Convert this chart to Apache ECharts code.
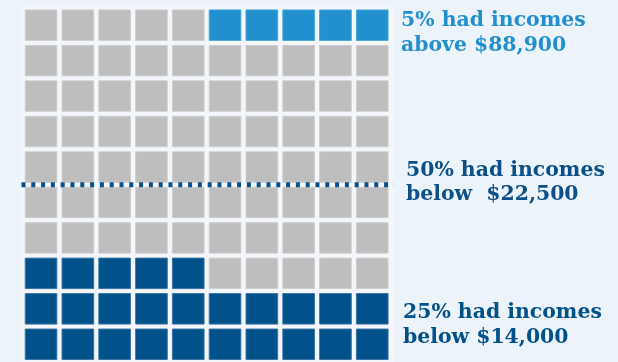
<!DOCTYPE html>
<html><head><meta charset="utf-8">
<script src="https://cdn.jsdelivr.net/npm/echarts@6/dist/echarts.min.js"></script>
<style>html,body{margin:0;padding:0;background:#ecf3fb}#c{width:618px;height:362px}</style>
</head><body><div id="c"></div>
<script>
// Waffle: 10 rows x 10 columns, each cell = 1% of households
const columns = [0,1,2,3,4,5,6,7,8,9];
const rowGroups = [
  ['mid','mid','mid','mid','mid','top','top','top','top','top'],
  ['mid','mid','mid','mid','mid','mid','mid','mid','mid','mid'],
  ['mid','mid','mid','mid','mid','mid','mid','mid','mid','mid'],
  ['mid','mid','mid','mid','mid','mid','mid','mid','mid','mid'],
  ['mid','mid','mid','mid','mid','mid','mid','mid','mid','mid'],
  ['mid','mid','mid','mid','mid','mid','mid','mid','mid','mid'],
  ['mid','mid','mid','mid','mid','mid','mid','mid','mid','mid'],
  ['low','low','low','low','low','mid','mid','mid','mid','mid'],
  ['low','low','low','low','low','low','low','low','low','low'],
  ['low','low','low','low','low','low','low','low','low','low']
];
const medianRow = 5; // 50% boundary (rows counted from top)
const labels = [
  {group:'top', lines:['5% had incomes','above $88,900']},
  {group:'median', lines:['50% had incomes','below  $22,500']},
  {group:'low', lines:['25% had incomes','below $14,000']}
];
const colors = {top:'#2290cf', mid:'#bebebe', low:'#01518b', median:'#0b5088'};
const borders = {top:'#4ea5da', mid:'#cfcfcf', low:'#3a74a3'};

const cells = [];
rowGroups.forEach((row, r) => row.forEach((g, c) => cells.push({value:[columns[c], r], group:g})));

const chart = echarts.init(document.getElementById('c'), null, {renderer:'canvas'});
const pad = 0.07;
const font = 'bold 20.4px "DejaVu Serif"';
chart.setOption({
  backgroundColor:'#ecf3fb',
  animation:false,
  grid:{left:22.65, top:7.45, width:368, height:356},
  xAxis:{type:'value', min:0, max:10, show:false},
  yAxis:{type:'value', min:0, max:10, inverse:true, show:false},
  graphic:[
    {type:'rect', z:-10, shape:{x:20.5, y:5, width:373, height:360}, style:{fill:'#f3f7fc'}},
    {type:'text', left:401, top:8, style:{text:labels[0].lines.join('\n'), fill:colors.top, font:font, lineHeight:25}},
    {type:'text', left:406, top:159, style:{text:labels[1].lines.join('\n'), fill:colors.median, font:font, lineHeight:24}},
    {type:'text', left:403, top:300, style:{text:labels[2].lines.join('\n'), fill:colors.low, font:font, lineHeight:25}}
  ],
  series:[
    {
      type:'custom',
      data:cells,
      renderItem:function(params, api){
        const c = api.value(0), r = api.value(1);
        const p0 = api.coord([c + pad, r + 0.07]);
        const p1 = api.coord([c + 1 - pad, r + 1 - 0.07]);
        const g = cells[params.dataIndex].group;
        return {type:'rect', shape:{x:p0[0], y:p0[1], width:p1[0]-p0[0], height:p1[1]-p0[1]},
          style:{fill:colors[g], stroke:borders[g], lineWidth:1}};
      }
    },
    {
      type:'line',
      clip:false,
      symbol:'none',
      data:[[-0.298, medianRow],[10.18, medianRow]],
      lineStyle:{color:colors.median, width:5, type:[4,5.8], cap:'butt'},
      z:5
    }
  ]
});
</script></body></html>
